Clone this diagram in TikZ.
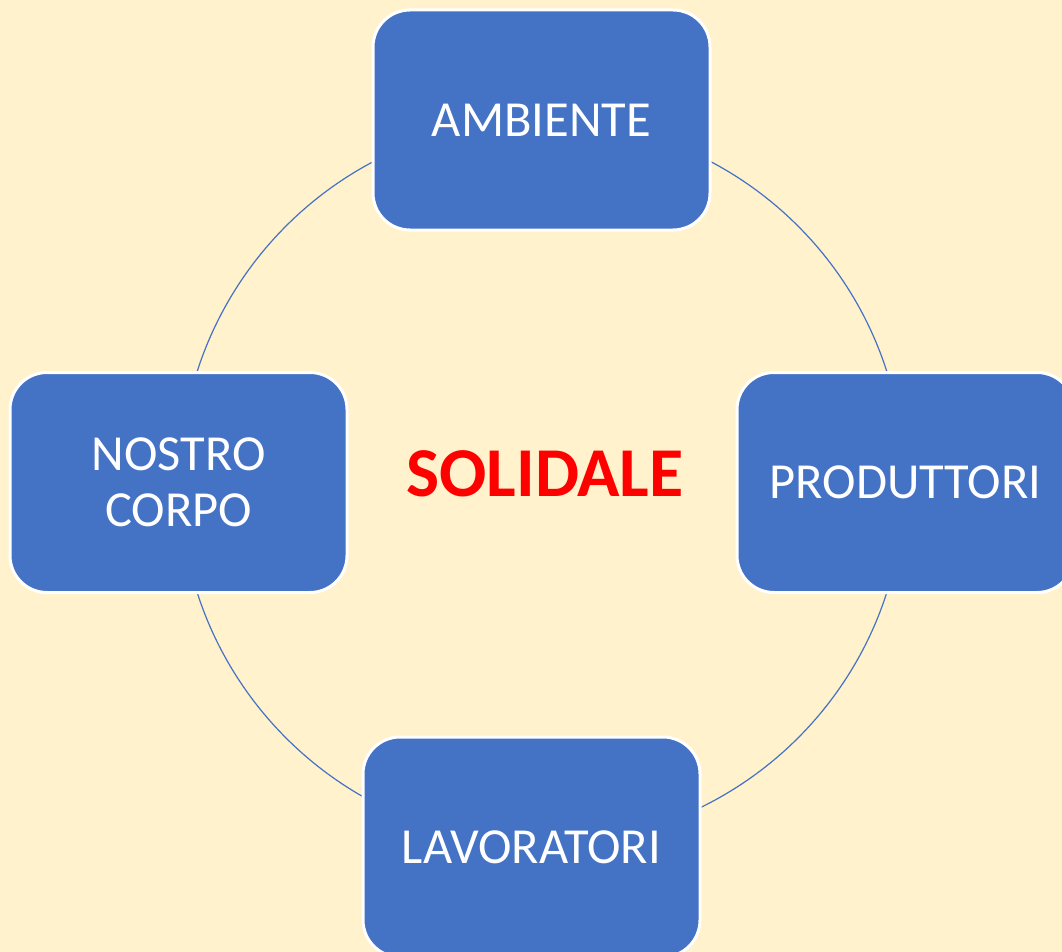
\documentclass[tikz,border=0pt]{standalone}
\usepackage{fontspec}
\setmainfont{Carlito}
\definecolor{sfondo}{HTML}{FFF2CC}
\definecolor{blu}{HTML}{4472C4}
\tikzset{
	casella/.style={draw=white, line width=3pt, fill=blu, rounded corners=37pt,
		minimum width=337pt, minimum height=220pt, inner sep=0pt, align=center,
		text=white, font=\fontsize{50.5}{56}\selectfont},
	anello/.style={draw=blu, line width=1.2pt},
	parola/.style={text=red, inner sep=0pt, font=\bfseries\fontsize{70}{80}\selectfont}
}
\begin{document}
\begin{tikzpicture}[x=1pt,y=-1pt]
	
	\fill[sfondo](0,0) rectangle (1062,952);
	\useasboundingbox (0,0) rectangle (1062,952);
	
	\coordinate (centro) at (542,482);
	\draw[anello](centro) circle [radius=362];
	
	\node[casella] (ambiente) at (541.5,120) {AMBIENTE};
	\node[casella] (corpo) at (178.5,482.5) {NOSTRO\\CORPO};
	\node[casella] (produttori) at (905.5,482.5) {PRODUTTORI};
	\node[casella] (lavoratori) at (531.5,847) {LAVORATORI};
	
	\node[parola] (solidale) at (545,473.5) {SOLIDALE};
\end{tikzpicture}
\end{document}
